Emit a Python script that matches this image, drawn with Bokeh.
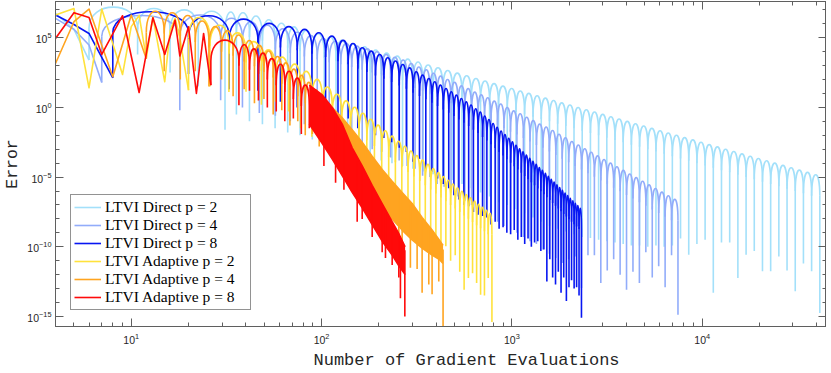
import numpy as np
from bokeh.plotting import figure
from bokeh.models import Range1d, LogAxis, FixedTicker, Legend, LegendItem, Title, CustomJSTickFormatter
from bokeh.embed import file_html
from bokeh.resources import INLINE

# ---------------------------------------------------------------
# Data.  x = number of gradient evaluations,
# all *_e arrays are log10(Error).
# ---------------------------------------------------------------

# LTVI Direct p = 2
D2_early_x = [4, 5, 6]
D2_early_e = [6.75, 5.6, 3.4]
D2_trough_x = [6, 10.8, 16, 22.5, 31.1, 35.7, 41.8, 48.9, 57.0, 66.4, 77.1, 89.4, 103.3, 119.2,
               137.1, 157.3, 180.1, 205.7, 234.4, 266.4, 302, 341.8, 385.5, 434, 488, 547.2,
               612.4, 684.4, 763.8, 850.6, 946, 1051, 1166, 1292, 1427, 1576, 1740, 1921, 2121,
               2342, 2587, 2856, 3154, 3482, 3845, 4246, 4688, 5177, 5716, 6312, 6970, 7696,
               8498, 9383, 10360, 11440, 12630, 13950, 15400, 17010, 18780, 20740, 22900,
               25280, 27920, 30830, 34040, 37580, 41500]
D2_trough_e = [3.4, 3.8, 2.5, 1.5, -1.6, -0.5, -1.0, -1.2, -1.5, -1.8, -2.0, -2.3, -2.5, -2.8,
               -3.0, -3.3, -3.5, -3.8, -4.0, -4.2, -4.4, -4.6, -4.8, -5.0, -5.2, -5.5, -5.8,
               -6.1, -6.4, -6.8, -7.0, -7.3, -7.6, -7.9, -8.2, -8.5, -8.7, -8.9, -9.1, -9.3,
               -9.37, -9.5, -9.6, -9.7, -9.8, -9.9, -9.9, -10.0, -9.9, -10.0, -9.9, -9.4,
               -10.57, -9.8, -9.5, -13.3, -9.7, -9.7, -12.24, -10.57, -10.3, -11.76, -11.76,
               -10.7, -11.7, -13.2, -11.2, -11.76, -14.76]
D2_peak_e = [7.2, 7.1, 7.0, 6.9, 6.85, 6.8, 6.56, 6.29, 6.04, 5.78, 5.53, 5.29, 5.05, 4.81,
             4.57, 4.35, 4.12, 3.90, 3.68, 3.47, 3.26, 3.05, 2.85, 2.65, 2.46, 2.27, 2.08,
             1.90, 1.71, 1.53, 1.36, 1.18, 1.01, 0.84, 0.67, 0.50, 0.33, 0.17, 0.0, -0.17,
             -0.33, -0.50, -0.67, -0.83, -1.00, -1.17, -1.33, -1.50, -1.67, -1.83, -2.00,
             -2.17, -2.33, -2.50, -2.67, -2.83, -3.00, -3.16, -3.33, -3.50, -3.66, -3.83,
             -4.00, -4.16, -4.33, -4.50, -4.66, -4.83]

# LTVI Direct p = 4
D4_early_x = [4, 5, 6, 7]
D4_early_e = [6.39, 5.6, 4.48, 1.79]
D4_trough_x = [7, 18, 29.5, 38.4, 47.1, 57.2, 68.5, 81.2, 94.9, 109.7, 126.1, 144, 163.5,
               184.5, 207, 230.7, 255.7, 281.6, 310, 339.6, 371, 404.6, 440.5, 479, 521.6, 566,
               613.8, 663.9, 718.2, 776.8, 840.4, 908.8, 983.2, 1063, 1150, 1245, 1346, 1456,
               1574, 1701, 1839, 1988, 2149, 2323, 2511, 2714, 2933, 3171, 3427, 3705, 4004,
               4328, 4678, 5057, 5466, 5908, 6386, 6903, 7461]
D4_trough_e = [1.79, -0.2, 0.52, 0.0, -0.4, -0.6, -1.0, -1.2, -1.6, -1.7, -2.2, -2.3, -2.7,
               -3.0, -3.2, -3.6, -3.8, -4.2, -4.4, -4.9, -5.0, -5.5, -5.7, -6.1, -6.4, -6.7,
               -7.0, -7.3, -7.6, -7.9, -8.2, -8.5, -8.8, -9.0, -9.3, -9.6, -9.8, -10.2, -10.5,
               -10.8, -11.16, -10.9, -10.7, -12.96, -10.6, -10.6, -12.6, -11.7, -10.9, -12.0,
               -13.08, -11.8, -12.6, -10.4, -12.2, -11.4, -12.9, -10.6, -14.88]
D4_peak_e = [6.6, 6.63, 6.4, 6.15, 5.9, 5.65, 5.4, 5.15, 4.95, 4.75, 4.6, 4.4, 4.2, 4.0, 3.8,
             3.6, 3.4, 3.15, 2.9, 2.7, 2.45, 2.25, 2.0, 1.8, 1.55, 1.35, 1.1, 0.9, 0.7, 0.45,
             0.25, 0.0, -0.25, -0.45, -0.7, -0.95, -1.2, -1.4, -1.66, -1.92, -2.18, -2.44,
             -2.70, -2.96, -3.22, -3.48, -3.74, -4.00, -4.26, -4.52, -4.78, -5.04, -5.30,
             -5.56, -5.82, -6.08, -6.34, -6.60]

# LTVI Direct p = 8
D8_early_x = [4, 5, 6, 7, 8]
D8_early_e = [6.63, 5.95, 5.31, 3.6, 2.13]
D8_trough_x = [8, 20, 32.7, 46.3, 60.8, 74.5, 89, 105, 122, 138, 155, 173, 192, 212.5, 233.6,
               256, 279, 302.5, 327, 353, 380, 407, 436, 466, 496, 527, 559.5, 593, 628, 664,
               701.5, 739, 777, 817, 857, 899, 941, 985, 1029, 1075, 1121, 1168, 1216, 1266,
               1316, 1368, 1420, 1473, 1527, 1582, 1638, 1696, 1754, 1813, 1873, 1934, 1996,
               2059, 2124, 2188, 2254, 2321]
D8_trough_e = [2.13, 2.4, 1.3, 1.2, 0.4, 0.0, -0.4, -0.3, -1.0, -0.8, -1.5, -1.3, -2.0, -2.2,
               -2.5, -2.9, -3.2, -3.9, -3.7, -4.4, -4.6, -5.1, -5.5, -5.8, -6.3, -6.6, -7.0,
               -7.1, -7.5, -7.7, -7.8, -7.9, -8.4, -8.2, -8.7, -8.6, -9.0, -9.1, -8.8, -9.5,
               -9.3, -9.8, -9.4, -10.0, -9.7, -9.6, -10.3, -10.2, -12.5, -10.9, -12.2, -12.7,
               -11.8, -13.3, -12.2, -13.9, -12.9, -12.4, -13.0, -12.9, -13.5, -15.1]
D8_peak_e = [6.87, 6.58, 6.34, 6.03, 5.8, 5.60, 5.36, 5.12, 4.81, 4.59, 4.28, 4.04, 3.80, 3.56,
             3.33, 3.08, 2.84, 2.56, 2.32, 2.08, 1.84, 1.60, 1.36, 1.12, 0.88, 0.64, 0.40,
             0.17, -0.10, -0.34, -0.62, -0.87, -1.15, -1.42, -1.69, -1.95, -2.21, -2.47,
             -2.72, -2.96, -3.19, -3.42, -3.65, -3.87, -4.09, -4.31, -4.52, -4.73, -4.94,
             -5.15, -5.36, -5.56, -5.75, -5.95, -6.15, -6.33, -6.52, -6.70, -6.88, -7.05, -7.23]

# LTVI Adaptive p = 2
A2_early_x = [4, 5, 6, 7, 9, 10, 11, 12, 13, 15, 16, 17, 18, 20]
A2_early_e = [6.63, 7.1, 1.41, 7.06, 2.36, 5.8, 6.6, 3.56, 6.5, 1.84, 5.5, 6.4, 5.0, 1.24]
A2_trough_x = [20, 25.9, 32.6, 40.1, 48.3, 57.3, 67.1, 77.6, 88.9, 101, 113.8, 127.5, 141.8,
               157, 172.9, 189.6, 207.1, 225.3, 244.3, 264.1, 284.6, 305.9, 328, 350.8, 374.4,
               398.8, 424, 449.9, 476.5, 504, 532.2, 561.2, 591, 621.5, 652.8, 684.9, 717.7,
               751.3, 785.7]
A2_trough_e = [1.24, 1.5, 1.1, 1.12, 0.2, 0.4, -0.3, -1.5, -2.1, -2.2, -3.0, -3.3, -3.9, -4.3,
               -4.8, -5.2, -5.8, -6.1, -6.7, -7.0, -7.6, -8.0, -8.5, -8.9, -9.4, -9.6, -10.2,
               -9.96, -11.0, -10.6, -11.8, -13.08, -12.24, -11.9, -12.6, -13.44, -13.5, -12.24,
               -15.4]
A2_peak_e = [6.45, 5.9, 5.35, 4.72, 4.14, 3.61, 3.11, 2.59, 2.01, 1.47, 0.95, 0.47, 0.01, -0.42,
             -0.85, -1.27, -1.67, -2.06, -2.43, -2.79, -3.13, -3.46, -3.78, -4.09, -4.39,
             -4.68, -4.96, -5.23, -5.5, -5.76, -6.01, -6.25, -6.49, -6.72, -6.95, -7.17, -7.39,
             -7.6]

# LTVI Adaptive p = 4
A4_early_x = [4, 5, 6, 8, 10, 12]
A4_early_e = [3.15, 6.15, 7.06, 2.2, 6.63, 3.5]
A4_trough_x = [12, 14.9, 18.1, 21.7, 25.6, 29.8, 34.3, 39.2, 44.4, 49.8, 55.7, 61.8, 68.2, 75,
               82.1, 89.5, 97.2, 105.3, 113.6]
A4_trough_e = [3.5, 2.6, 2.0, 2.6, 1.5, 2.0, 0.8, 1.3, 0.3, 0.6, -0.5, -0.2, -1.3, -1.0, -2.0,
               -1.9, -2.8, -2.6, -3.4]
A4_peak_e = [6.9, 6.8, 6.6, 6.2, 5.8, 5.5, 5.2, 4.8, 4.45, 4.05, 3.65, 3.2, 2.75, 2.3, 1.8,
             1.27, 0.76, 0.26]
A4_band_x = [113.8, 128.4, 144.9, 163.5, 184.5, 208.2, 235, 265.1, 299.2, 337.6, 380.9, 414.6, 435]
A4_band_top = [0.0, -0.75, -1.6, -2.5, -3.5, -4.45, -5.3, -6.1, -6.9, -7.9, -8.8, -9.5, -9.9]
A4_band_bot = [-2.6, -3.4, -4.2, -5.1, -6.1, -7.1, -8.0, -8.8, -9.5, -10.1, -10.6, -10.9, -11.2]
A4_spike_x = [128.4, 150, 170.2, 200, 254.7, 265.1, 293, 317.8, 337.6, 366, 380.9, 413, 435]
A4_spike_e = [-4.8, -5.5, -7.0, -8.2, -10.8, -10.0, -11.5, -11.6, -13.3, -12.7, -13.4, -12.5, -15.7]

# LTVI Adaptive p = 8
A8_early_x = [4, 5, 6, 7, 9, 11, 13, 15, 17, 18, 20, 22, 24, 26.2]
A8_early_e = [4.95, 6.80, 6.46, 3.80, 6.58, 1.07, 6.44, 3.80, 6.27, 3.69, 5.79, 1.0, 5.31, 1.6]
A8_trough_x = [26.2, 36.8, 41.8, 46.6, 51.9, 57.8, 64.1, 71.1, 78.3, 86.2]
A8_trough_e = [1.6, 0.16, 1.2, 0.5, 0.0, -0.3, -1.0, -0.8, -1.9, -1.5]
A8_peak_e = [4.83, 4.5, 4.2, 3.9, 3.5, 3.1, 2.6, 2.1, 1.6]
A8_band_x = [86.2, 100.9, 113.8, 128.4, 144.9, 163.5, 184.5, 208.2, 235, 255.7, 274.9]
A8_band_top = [1.6, 0.9, 0.0, -1.2, -2.9, -4.2, -5.6, -6.9, -8.2, -9.1, -10.0]
A8_band_bot = [-1.2, -2.6, -3.7, -4.9, -6.1, -7.2, -8.4, -9.6, -10.6, -11.4, -12.0]
A8_spike_x = [102.9, 118.5, 131.1, 153.9, 163.5, 184.5, 208.2, 216.7, 235, 254.7, 259.7, 273.9]
A8_spike_e = [-4.2, -5.4, -5.9, -8.2, -8.0, -9.3, -10.4, -10.8, -11.3, -12.2, -13.7, -15.0]

labels = ["LTVI Direct p = 2", "LTVI Direct p = 4", "LTVI Direct p = 8",
          "LTVI Adaptive p = 2", "LTVI Adaptive p = 4", "LTVI Adaptive p = 8"]
colors = ["#a3e0fa", "#92acfa", "#0716f2", "#ffe23c", "#ffa420", "#ff0a0a"]

x_major = [10, 100, 1000, 10000]
y_major = [1e-15, 1e-10, 1e-5, 1, 1e5]

# ---------------------------------------------------------------
LW = 1.6
p = figure(width=826, height=371, x_axis_type="log", y_axis_type="log",
           x_range=Range1d(4, 45000), y_range=Range1d(1.9e-16, 4e7),
           output_backend="svg", toolbar_location=None,
           min_border_left=0, min_border_right=0, min_border_top=1, min_border_bottom=0)
p.grid.visible = False
p.background_fill_color = "white"
p.outline_line_color = "#5f5f5f"
p.outline_line_width = 1


def E(a):
    return 10.0 ** np.asarray(a, dtype=float)


def draw_arches(tx, te, pe, color):
    tx = np.asarray(tx, float)
    te = np.asarray(te, float)
    pe = np.asarray(pe, float)
    n = min(len(tx) - 1, len(pe))
    tx, te, pe = tx[:n + 1], te[:n + 1], pe[:n]
    s = np.minimum(1.5, pe - np.maximum(te[:-1], te[1:]))
    s = np.maximum(s, 0.2)
    sh = pe - s
    ctrl = pe + s / 3.0
    p.bezier(x0=tx[:-1], y0=E(sh), x1=tx[1:], y1=E(sh),
             cx0=tx[:-1], cy0=E(ctrl), cx1=tx[1:], cy1=E(ctrl),
             line_color=color, line_width=LW)
    left = np.concatenate([[sh[0]], sh])
    right = np.concatenate([sh, [sh[-1]]])
    top = np.maximum(left, right)
    p.segment(x0=tx, y0=E(top), x1=tx, y1=E(te), line_color=color, line_width=LW)


def draw_band(bx, btop, bbot, sx, se, color):
    p.varea(x=bx, y1=E(bbot), y2=E(btop), fill_color=color)
    p.line(bx, E(btop), line_color=color, line_width=LW)
    p.line(bx, E(bbot), line_color=color, line_width=LW)
    stop = np.interp(np.log10(sx), np.log10(bx), btop) - 0.3
    p.segment(x0=sx, y0=E(stop), x1=sx, y1=E(se), line_color=color, line_width=LW)


series = [
    (D2_early_x, D2_early_e, D2_trough_x, D2_trough_e, D2_peak_e, None),
    (D4_early_x, D4_early_e, D4_trough_x, D4_trough_e, D4_peak_e, None),
    (D8_early_x, D8_early_e, D8_trough_x, D8_trough_e, D8_peak_e, None),
    (A2_early_x, A2_early_e, A2_trough_x, A2_trough_e, A2_peak_e, None),
    (A4_early_x, A4_early_e, A4_trough_x, A4_trough_e, A4_peak_e,
     (A4_band_x, A4_band_top, A4_band_bot, A4_spike_x, A4_spike_e)),
    (A8_early_x, A8_early_e, A8_trough_x, A8_trough_e, A8_peak_e,
     (A8_band_x, A8_band_top, A8_band_bot, A8_spike_x, A8_spike_e)),
]

items = []
for (ex, ee, tx, te, pe, band), col, lab in zip(series, colors, labels):
    r = p.line(ex, E(ee), line_color=col, line_width=LW, line_join="round")
    draw_arches(tx, te, pe, col)
    if band is not None:
        draw_band(*band, col)
    items.append(LegendItem(label=lab, renderers=[r]))

# ---------------- axes ----------------
x_minor = [k * 10 ** d for d in range(0, 5) for k in range(1, 10) if 4 <= k * 10 ** d <= 45000]
y_minor = [10.0 ** k for k in range(-15, 8)]

AX = "#5f5f5f"
TXT = "#262626"


def style(ax):
    ax.axis_line_color = AX
    ax.major_tick_line_color = AX
    ax.minor_tick_line_color = AX
    ax.major_tick_in = 8
    ax.major_tick_out = 0
    ax.minor_tick_in = 4
    ax.minor_tick_out = 0
    ax.major_label_text_font = "Liberation Sans"
    ax.major_label_text_font_size = "10.5px"
    ax.major_label_text_color = TXT


p.xaxis.ticker = FixedTicker(ticks=x_major, minor_ticks=x_minor)
p.yaxis.ticker = FixedTicker(ticks=y_major, minor_ticks=y_minor)
style(p.xaxis[0])
style(p.yaxis[0])
p.xaxis.major_label_standoff = 6
p.yaxis.major_label_standoff = 4

blank = CustomJSTickFormatter(code="return '';")
top_ax = LogAxis(ticker=FixedTicker(ticks=x_major, minor_ticks=x_minor), formatter=blank,
                 major_label_standoff=0)
right_ax = LogAxis(ticker=FixedTicker(ticks=y_major, minor_ticks=y_minor), formatter=blank,
                   major_label_standoff=0)
for ax in (top_ax, right_ax):
    style(ax)
    ax.major_label_text_font_size = "2px"
    ax.major_label_text_alpha = 0
p.add_layout(top_ax, "above")
p.add_layout(right_ax, "right")

p.yaxis[0].axis_label = "Error"
p.yaxis[0].axis_label_text_font = "Liberation Mono"
p.yaxis[0].axis_label_text_font_size = "16.5px"
p.yaxis[0].axis_label_text_font_style = "normal"
p.yaxis[0].axis_label_text_color = TXT
p.yaxis[0].axis_label_standoff = 2

xl = Title(text="Number of Gradient Evaluations", align="left", offset=258,
           text_font="Liberation Mono", text_font_size="17px", text_font_style="normal",
           text_color=TXT, standoff=4)
p.add_layout(xl, "below")

legend = Legend(items=items, location=(15, 16),
                label_text_font="Liberation Serif", label_text_font_size="15.5px",
                label_text_color="black",
                glyph_width=27, glyph_height=18, label_height=18, label_width=142,
                spacing=0, padding=3,
                label_standoff=4, border_line_color=TXT, border_line_width=1,
                background_fill_color="white", background_fill_alpha=1.0)
p.add_layout(legend)

open("out.html", "w").write(file_html(p, INLINE))
